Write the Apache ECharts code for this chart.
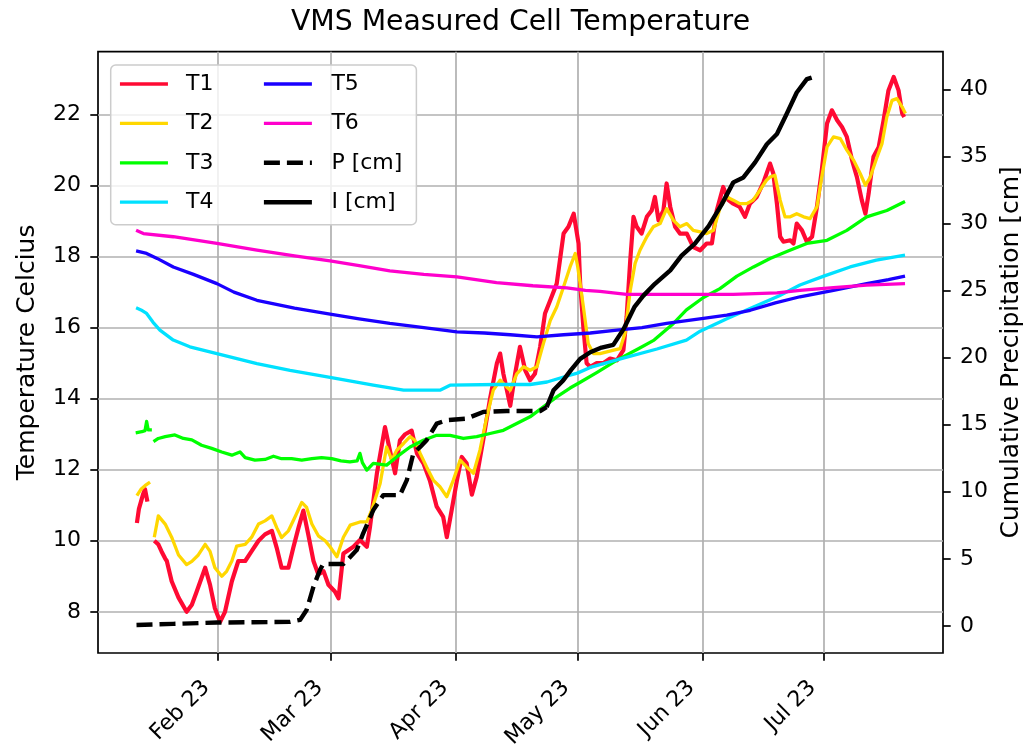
<!DOCTYPE html>
<html><head><meta charset="utf-8">
<script src="https://cdn.jsdelivr.net/npm/echarts@6/dist/echarts.min.js"></script>
<style>html,body{margin:0;padding:0;background:#fff}#c{width:1023px;height:753px}</style>
</head><body><div id="c"></div>
<script>
// x values are days since 2023-01-01 (first day of each month used as tick)
const monthTickDays = [31, 59, 90, 120, 151, 181];
const monthLabels = ['Feb 23', 'Mar 23', 'Apr 23', 'May 23', 'Jun 23', 'Jul 23'];
const tempTicks = [8, 10, 12, 14, 16, 18, 20, 22];
const precipTicks = [0, 5, 10, 15, 20, 25, 30, 35, 40];

const t1 = [[11.0,10.5],[11.5,10.9],[12.5,11.3],[13.0,11.45],[13.6,11.1],[14.5,null],[15.3,10.0],[16.3,9.9],[17.1,9.7],[18.0,9.5],[18.4,9.43],[19.6,8.86],[21.3,8.4],[23.3,8.0],[24.6,8.2],[25.8,8.57],[27.9,9.24],[29.1,8.76],[30.3,8.1],[31.6,7.72],[32.8,8.0],[34.5,8.86],[36.1,9.43],[37.8,9.43],[39.4,9.71],[41.1,10.0],[42.7,10.18],[44.4,10.28],[45.6,9.8],[46.8,9.24],[48.5,9.24],[49.7,9.8],[51.0,10.37],[52.2,10.85],[53.4,10.18],[54.7,9.43],[55.9,9.05],[57.2,9.14],[58.4,8.76],[60.0,8.57],[60.9,8.38],[62.1,9.64],[64.6,9.83],[66.2,10.02],[67.9,9.83],[68.7,10.4],[70.4,11.9],[72.4,13.2],[73.6,12.55],[74.9,11.9],[76.1,12.83],[77.4,13.0],[79.0,13.1],[80.3,12.46],[81.9,12.18],[83.5,11.7],[85.2,10.96],[86.8,10.67],[87.7,10.1],[88.9,10.86],[90.2,11.7],[91.4,12.36],[92.6,12.18],[93.9,11.3],[95.1,11.8],[96.7,12.83],[98.4,14.0],[100.1,15.0],[100.9,15.27],[101.7,14.7],[103.4,13.8],[104.6,14.7],[105.8,15.46],[107.1,14.8],[108.3,14.52],[109.5,14.7],[110.8,15.46],[112.0,16.4],[113.3,16.77],[114.9,17.24],[116.6,18.65],[117.8,18.84],[119.1,19.21],[120.3,18.37],[120.7,17.24],[121.5,16.0],[122.3,15.0],[123.2,14.9],[124.8,15.0],[126.4,15.0],[128.1,15.13],[129.8,15.08],[131.4,15.37],[132.2,16.3],[133.1,17.9],[133.9,19.12],[134.7,18.84],[135.9,18.65],[137.2,19.12],[138.4,19.3],[139.2,19.68],[140.1,19.02],[141.3,19.3],[142.1,20.06],[143.0,19.4],[144.2,18.84],[145.4,18.65],[147.1,18.65],[148.7,18.27],[150.4,18.18],[152.0,18.37],[153.3,18.37],[154.5,19.3],[156.1,19.96],[157.4,19.59],[158.6,19.49],[160.2,19.4],[161.5,19.12],[162.7,19.49],[164.4,19.68],[166.1,20.1],[167.7,20.62],[168.5,20.34],[169.4,19.49],[170.2,18.56],[171.0,18.42],[172.7,18.46],[173.5,18.37],[174.3,18.93],[175.6,18.74],[176.8,18.42],[178.1,18.56],[179.3,19.4],[180.5,20.43],[181.8,21.75],[183.0,22.12],[184.3,21.84],[185.5,21.65],[186.7,21.37],[188.0,20.71],[189.2,20.24],[190.4,19.59],[191.3,19.21],[192.1,19.78],[193.3,20.81],[194.6,21.09],[195.8,21.84],[197.0,22.68],[198.3,23.06],[199.5,22.68],[200.4,22.03],[200.9,21.93]];

const t2 = [[11.0,11.27],[12.0,11.45],[13.0,11.55],[14.25,11.65],[14.8,null],[15.3,10.1],[16.3,10.7],[18.0,10.47],[19.6,10.1],[21.3,9.6],[23.3,9.33],[24.6,9.42],[26.2,9.6],[27.9,9.9],[29.1,9.7],[30.3,9.24],[32.0,9.0],[33.2,9.14],[34.5,9.43],[35.7,9.85],[37.8,9.9],[39.4,10.1],[41.1,10.47],[42.7,10.56],[44.4,10.7],[45.6,10.37],[46.8,10.09],[48.5,10.28],[50.1,10.66],[51.8,11.08],[53.0,10.94],[54.3,10.47],[55.9,10.14],[57.6,10.0],[58.8,9.83],[60.5,9.55],[62.1,10.1],[63.8,10.44],[66.2,10.53],[67.9,10.53],[69.1,10.86],[71.2,11.61],[72.8,12.64],[74.1,12.27],[75.3,12.55],[77.0,12.74],[78.6,12.93],[79.8,12.83],[81.1,12.46],[82.7,12.08],[84.4,11.7],[86.0,11.52],[87.7,11.24],[89.3,11.7],[91.0,12.27],[92.6,12.08],[94.3,11.9],[95.9,12.55],[97.6,13.49],[99.2,14.24],[100.9,14.52],[102.5,14.33],[103.4,14.24],[105.0,14.7],[106.7,14.9],[108.3,14.8],[110.0,14.9],[111.6,15.55],[113.3,16.2],[114.9,16.58],[116.6,17.15],[118.2,17.71],[119.5,18.09],[120.1,17.71],[120.7,17.24],[121.5,16.58],[122.7,15.55],[124.0,15.27],[125.6,15.27],[127.3,15.32],[129.0,15.37],[130.6,15.41],[131.8,15.84],[133.1,17.05],[134.3,17.81],[135.5,18.18],[137.2,18.56],[138.8,18.84],[140.5,18.93],[142.1,19.35],[143.8,19.02],[145.4,18.84],[147.1,18.93],[148.7,18.74],[150.4,18.7],[152.0,18.65],[153.7,18.74],[155.4,19.4],[157.0,19.68],[158.6,19.59],[160.2,19.49],[161.9,19.49],[163.5,19.59],[165.2,19.87],[166.8,20.15],[167.7,20.24],[168.9,20.29],[170.2,19.59],[171.4,19.12],[172.7,19.12],[174.3,19.21],[176.0,19.12],[177.6,19.07],[179.3,19.4],[180.5,20.24],[181.8,21.09],[183.4,21.37],[185.1,21.32],[186.7,21.0],[188.4,20.71],[190.0,20.34],[191.3,20.01],[192.5,20.24],[194.2,20.81],[195.4,21.18],[196.6,21.93],[197.9,22.4],[199.1,22.45],[200.4,22.21],[201.2,22.03]];

const t3 = [[10.7,13.04],[12.2,13.07],[13.0,13.1],[13.4,13.36],[13.8,13.12],[14.7,13.12],[14.9,null],[15.1,12.79],[16.3,12.88],[18.0,12.93],[20.4,12.98],[22.5,12.88],[24.6,12.84],[27.0,12.69],[29.5,12.6],[32.0,12.5],[34.5,12.41],[36.5,12.5],[37.8,12.34],[40.2,12.27],[42.7,12.29],[44.8,12.38],[46.8,12.31],[49.3,12.31],[51.8,12.27],[54.3,12.31],[56.7,12.34],[59.2,12.31],[61.5,12.25],[63.7,12.22],[65.5,12.25],[66.2,12.46],[66.8,12.2],[67.9,11.99],[69.5,12.18],[72.8,12.13],[75.3,12.36],[78.6,12.64],[81.9,12.83],[85.2,12.97],[88.5,12.97],[91.8,12.88],[95.1,12.93],[98.4,13.02],[101.7,13.11],[105.0,13.3],[108.3,13.49],[111.6,13.77],[114.9,14.05],[118.2,14.3],[120.5,14.45],[125.0,14.75],[130.0,15.1],[135.0,15.4],[139.0,15.65],[143.8,16.12],[147.0,16.5],[151.2,16.85],[155.3,17.1],[159.5,17.45],[163.6,17.71],[167.7,17.95],[172.0,18.15],[176.8,18.37],[181.8,18.46],[186.7,18.74],[191.6,19.12],[196.6,19.3],[201.1,19.55]];

const t4 = [[10.8,16.56],[12.0,16.5],[13.4,16.4],[15.0,16.15],[16.7,15.93],[20.0,15.65],[24.1,15.46],[30.8,15.27],[40.7,14.99],[48.9,14.8],[58.8,14.6],[69.5,14.38],[77.0,14.24],[86.0,14.24],[88.5,14.38],[100.0,14.4],[108.3,14.4],[112.5,14.47],[116.6,14.61],[120.0,14.72],[123.2,14.88],[130.0,15.1],[139.7,15.4],[147.0,15.65],[150.4,15.9],[157.0,16.25],[163.6,16.58],[170.0,16.9],[175.1,17.2],[181.0,17.45],[187.5,17.71],[194.0,17.9],[201.1,18.04]];

const t5 = [[10.8,18.16],[13.4,18.09],[16.0,17.95],[20.0,17.71],[25.0,17.5],[30.8,17.24],[35.0,17.0],[40.7,16.77],[50.0,16.55],[58.8,16.38],[66.0,16.25],[73.6,16.12],[82.0,16.0],[90.2,15.88],[97.0,15.85],[103.4,15.8],[110.0,15.74],[116.6,15.8],[123.2,15.85],[129.8,15.93],[136.0,16.0],[142.1,16.12],[151.2,16.26],[157.0,16.35],[162.8,16.49],[169.0,16.7],[175.1,16.87],[183.4,17.05],[191.6,17.24],[197.0,17.35],[201.1,17.45]];

const t6 = [[10.8,18.74],[12.6,18.65],[20.0,18.56],[30.8,18.37],[40.7,18.18],[50.0,18.02],[58.8,17.88],[66.0,17.75],[73.6,17.6],[82.0,17.5],[90.2,17.43],[100.0,17.27],[109.0,17.18],[117.4,17.12],[122.0,17.05],[125.6,17.02],[132.2,16.94],[142.0,16.94],[158.6,16.94],[169.4,16.98],[175.1,17.05],[183.4,17.13],[191.6,17.2],[201.1,17.24]];

const precipP = [[10.9,0.07],[20.0,0.15],[30.8,0.25],[48.9,0.3],[51.4,0.45],[53.0,1.19],[54.7,2.92],[56.3,4.17],[57.1,4.61],[62.1,4.61],[65.4,5.65],[67.0,6.9],[69.5,8.63],[72.0,9.75],[76.1,9.75],[77.8,10.86],[79.4,12.85],[81.1,13.34],[82.7,13.84],[85.2,15.08],[87.7,15.33],[92.6,15.45],[96.7,15.95],[102.5,16.02],[110.8,16.02],[112.4,16.3]];

const precipI = [[112.4,16.3],[114.1,17.56],[116.5,18.3],[118.5,19.1],[120.7,19.9],[123.2,20.4],[126.0,20.75],[128.9,20.95],[131.4,22.1],[134.2,23.8],[136.3,24.6],[139.2,25.5],[143.0,26.5],[145.8,27.6],[149.1,28.5],[152.5,29.8],[155.7,31.4],[158.6,33.06],[161.1,33.43],[164.0,34.55],[166.9,35.9],[169.4,36.66],[171.8,38.15],[174.3,39.76],[176.8,40.75],[178.0,40.87]];

const FONT = 'DejaVu Sans';
const chart = echarts.init(document.getElementById('c'), null, {renderer: 'canvas'});

function lineSeries(name, data, color, width, yIdx, type) {
  return {
    name, type: 'line', data: data, yAxisIndex: yIdx,
    symbol: 'none', showSymbol: false, connectNulls: false,
    lineStyle: {color, width, type: type || 'solid', cap: 'butt', join: 'round'},
    itemStyle: {color},
    emphasis: {disabled: true},
    animation: false
  };
}

const tickStyle = {show: true, inside: false, length: 7.7, lineStyle: {color: '#000', width: 1.7}};
const hiddenSymbol = {opacity: 0, color: 'rgba(0,0,0,0)', borderWidth: 0};

const option = {
  animation: false,
  backgroundColor: '#fff',
  title: {
    text: 'VMS Measured Cell Temperature',
    left: 515.5, top: 4, textAlign: 'center',
    textStyle: {fontFamily: FONT, fontSize: 28.3, fontWeight: 'normal', color: '#000'}
  },
  grid: {left: 98, right: 80, top: 51.7, bottom: 100, show: true,
         borderColor: '#000', borderWidth: 1.7, backgroundColor: 'transparent',
         containLabel: false, outerBoundsMode: 'none'},
  legend: [
    {
      data: ['T1', 'T2', 'T3', 'T4'], orient: 'vertical',
      left: 110.7, top: 65, padding: [7, 203, 10.6, 7.6],
      itemWidth: 48, itemHeight: 14, itemGap: 15.4,
      backgroundColor: 'rgba(255,255,255,0.8)', borderColor: '#cccccc', borderWidth: 1.5, borderRadius: 5,
      textStyle: {fontFamily: FONT, fontSize: 22, color: '#000', lineHeight: 24, padding: [0, 0, 0, 13]},
      itemStyle: hiddenSymbol,
      lineStyle: {width: 3.3}, selectedMode: false, z: 4
    },
    {
      data: ['T5', 'T6', 'P [cm]', 'I [cm]'], orient: 'vertical',
      left: 261.7, top: 72, padding: 0,
      itemWidth: 48, itemHeight: 14, itemGap: 15.4,
      textStyle: {fontFamily: FONT, fontSize: 22, color: '#000', lineHeight: 24, padding: [0, 0, 0, 14.5]},
      itemStyle: hiddenSymbol,
      lineStyle: {width: 'inherit'}, selectedMode: false, z: 5
    }
  ],
  xAxis: {
    type: 'value', min: 1.37, max: 210.5,
    axisLine: {show: false, onZero: false},
    axisTick: Object.assign({customValues: monthTickDays}, tickStyle),
    splitLine: {show: true, lineStyle: {color: '#b0b0b0', width: 1.7}},
    axisLabel: {
      customValues: monthTickDays, rotate: 45, margin: 20, padding: [0, 16, 0, 0],
      fontFamily: FONT, fontSize: 22, color: '#000',
      formatter: v => monthLabels[monthTickDays.indexOf(v)] || ''
    }
  },
  yAxis: [
    {
      type: 'value', position: 'left', min: 6.84, max: 23.77,
      name: 'Temperature Celcius', nameLocation: 'middle', nameGap: 58,
      nameTextStyle: {fontFamily: FONT, fontSize: 25, color: '#000'},
      axisLine: {show: false, onZero: false},
      axisTick: Object.assign({customValues: tempTicks}, tickStyle),
      splitLine: {show: true, lineStyle: {color: '#b0b0b0', width: 1.7}},
      axisLabel: {customValues: tempTicks, margin: 17, fontFamily: FONT, fontSize: 22, color: '#000'}
    },
    {
      type: 'value', position: 'right', min: -2.02, max: 42.8,
      name: 'Cumulative Precipitation [cm]', nameLocation: 'middle', nameGap: 55,
      nameTextStyle: {fontFamily: FONT, fontSize: 25, color: '#000'},
      axisLine: {show: false, onZero: false},
      axisTick: Object.assign({customValues: precipTicks}, tickStyle),
      splitLine: {show: false},
      axisLabel: {customValues: precipTicks, margin: 17, fontFamily: FONT, fontSize: 22, color: '#000'}
    }
  ],
  series: [
    lineSeries('T1', t1, '#ff0a33', 4.2, 0),
    lineSeries('T2', t2, '#ffd700', 3.3, 0),
    lineSeries('T3', t3, '#00ff00', 3.3, 0),
    lineSeries('T4', t4, '#00e1ff', 3.3, 0),
    lineSeries('T5', t5, '#1a00ff', 3.3, 0),
    lineSeries('T6', t6, '#ff00cc', 3.3, 0),
    lineSeries('P [cm]', precipP, '#000000', 4.4, 1, [16, 7]),
    lineSeries('I [cm]', precipI, '#000000', 4.4, 1)
  ]
};
chart.setOption(option);
</script>
</body></html>
